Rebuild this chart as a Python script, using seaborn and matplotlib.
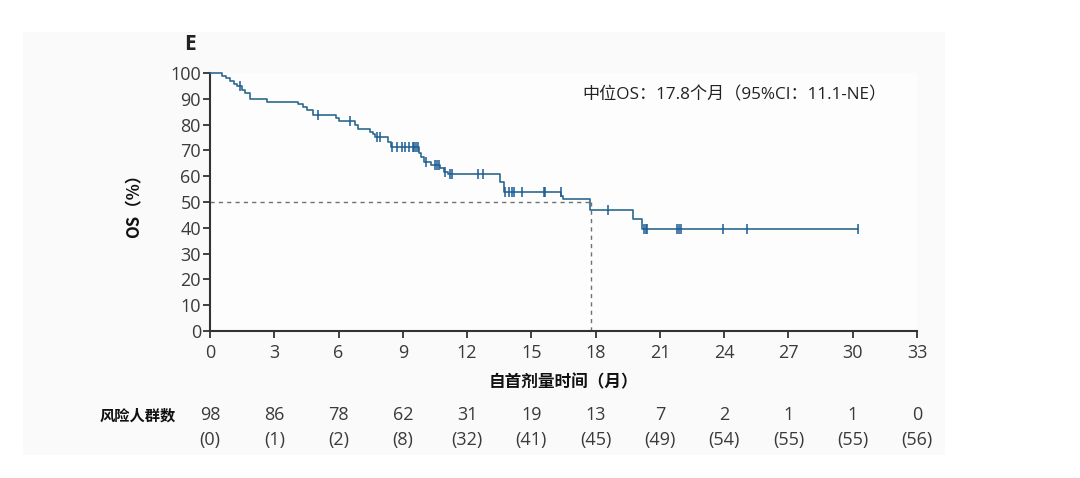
import numpy as np
import pandas as pd
import matplotlib
matplotlib.use("Agg")
import matplotlib.pyplot as plt
from matplotlib.patches import Rectangle
import seaborn as sns

# step curve: event times (months) and OS (%) right after each drop
step_time = [0, 0.55, 0.75, 0.95, 1.1, 1.25, 1.5, 1.65, 1.85, 2.65,
             4.13, 4.35, 4.55, 4.8, 5.9, 6.0, 6.78, 6.9, 7.48, 7.6,
             7.7, 8.33, 8.45, 9.74, 9.85, 10.0, 10.3, 10.75, 10.9, 11.1,
             13.55, 13.7, 16.4, 16.47, 17.76, 19.73, 20.17, 30.25]
step_os = [100, 99.0, 97.9, 96.9, 95.9, 94.9, 93.6, 92.2, 90.0, 88.9,
           87.9, 86.8, 85.7, 83.8, 82.6, 81.5, 80.0, 78.3, 77.3, 76.2,
           75.1, 73.4, 71.5, 68.9, 67.3, 65.6, 64.3, 63.1, 61.8, 60.8,
           57.9, 54.0, 52.5, 51.0, 47.0, 43.4, 39.4, 39.4]

# censored patients (months)
censor_time = [1.4, 5.06, 6.54, 7.79, 7.94, 8.49, 8.72, 8.96, 9.11, 9.27,
               9.47, 9.53, 9.63, 9.69, 10.1, 10.51, 10.59, 10.67, 10.98,
               11.18, 11.29, 12.5, 12.75, 13.79, 13.94, 14.1, 14.17, 14.56,
               15.58, 15.65, 16.36, 18.6, 20.25, 20.33, 20.41, 21.81, 21.88,
               22.0, 23.93, 25.07, 30.25]

risk_time = [0, 3, 6, 9, 12, 15, 18, 21, 24, 27, 30, 33]
at_risk = [98, 86, 78, 62, 31, 19, 13, 7, 2, 1, 1, 0]
events = [0, 1, 2, 8, 32, 41, 45, 49, 54, 55, 55, 56]

median_os = 17.8

line_col = "#2d6a8f"
mark_col = "#1b5b96"
text_col = "#3a3a3a"
num_font = ["Open Sans", "Noto Sans CJK SC", "DejaVu Sans"]

sns.set_theme(style="white")
plt.rcParams["font.family"] = ["Noto Sans CJK SC", "DejaVu Sans"]

curve = pd.DataFrame({"time": step_time, "os": step_os})
idx = np.searchsorted(step_time, censor_time, side="right") - 1
cens = pd.DataFrame({"time": censor_time, "os": np.array(step_os)[idx]})

fig = plt.figure(figsize=(10.8, 4.78), dpi=100)
fig.patch.set_facecolor("white")
fig.patches.append(Rectangle((23 / 1080, 1 - 455 / 478), 922 / 1080, 423 / 478,
                             transform=fig.transFigure, facecolor="#fafafa",
                             edgecolor="none", zorder=-10))
ax = fig.add_axes([210 / 1080, 1 - 331 / 478, 707 / 1080, 258 / 478])
ax.set_facecolor("#fdfdfd")

sns.lineplot(data=curve, x="time", y="os", drawstyle="steps-post", color=line_col,
             linewidth=1.2, estimator=None, ax=ax, clip_on=False, zorder=3)
sns.scatterplot(data=cens, x="time", y="os", marker="|", s=60, color=mark_col,
                linewidth=1.1, ax=ax, zorder=4, clip_on=False)

ax.plot([0, median_os], [50, 50], ls=(0, (3, 3)), color="#707070", lw=1.0, zorder=2)
ax.plot([median_os, median_os], [0, 50], ls=(0, (3, 3)), color="#707070", lw=1.0, zorder=2)

ax.set_xlim(0, 33)
ax.set_ylim(0, 100)
ax.set_xticks(range(0, 34, 3))
ax.set_yticks(range(0, 101, 10))
for s in ["top", "right"]:
    ax.spines[s].set_visible(False)
for s in ["left", "bottom"]:
    ax.spines[s].set_color("#333333")
    ax.spines[s].set_linewidth(1.5)
ax.tick_params(axis="both", direction="out", length=5, width=1.3, color="#333333",
               labelsize=13, labelcolor=text_col, left=True, bottom=True, pad=1.5)
ax.tick_params(axis="x", pad=4)
for lab in ax.get_xticklabels() + ax.get_yticklabels():
    lab.set_family(num_font)
ax.set_xlabel("")
ax.set_ylabel("")

ax.text(-0.107, 0.5, "OS（%）", transform=ax.transAxes, rotation=90, ha="center",
        va="center", fontsize=12, fontweight="bold", color="#111111")
ax.text(0.5, -0.198, "自首剂量时间（月）", transform=ax.transAxes, ha="center",
        va="center", fontsize=12, fontweight="bold", color="#111111")
ax.text(-0.028, 1.11, "E", transform=ax.transAxes, ha="center", va="center",
        fontsize=15, fontweight="bold", color="#222222", family=num_font)
ax.text(17.4, 91.5, "中位OS：17.8个月（95%CI：11.1-NE）", ha="left", va="center",
        fontsize=12.3, color="#222222", family=num_font)

tr = ax.get_xaxis_transform()
ax.text(-1.6, -0.326, "风险人群数", transform=tr, ha="right", va="center",
        fontsize=11, fontweight="bold", color="#111111")
for t, n, e in zip(risk_time, at_risk, events):
    ax.text(t, -0.326, str(n), transform=tr, ha="center", va="center",
            fontsize=13, color=text_col, family=num_font)
    ax.text(t, -0.422, "(" + str(e) + ")", transform=tr, ha="center", va="center",
            fontsize=13, color=text_col, family=num_font)

fig.savefig("out.png", dpi=100)
